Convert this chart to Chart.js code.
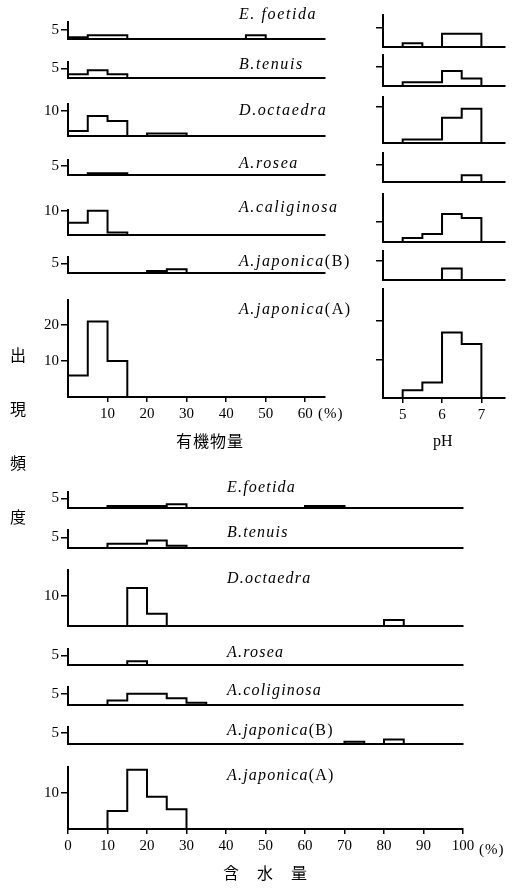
<!DOCTYPE html>
<html>
<head>
<meta charset="utf-8">
<script src="https://cdn.jsdelivr.net/npm/chart.js@4.4.1/dist/chart.umd.min.js"></script>
<style>
  body { margin: 0; background: #fff; width: 515px; height: 888px; position: relative; overflow: hidden;
         font-family: 'Liberation Serif', serif; color: #000; }
  canvas { position: absolute; }
  .sp { position: absolute; font-style: italic; font-size: 16px; line-height: 16px; white-space: nowrap; }
  .sp span { font-style: normal; }
  .num { position: absolute; font-size: 15px; line-height: 16px; white-space: nowrap; letter-spacing: 1px; }
  .jp { position: absolute; font-family: 'Noto Sans CJK JP', sans-serif; font-size: 16px; line-height: 16px; white-space: nowrap; }
</style>
</head>
<body>
<script>
// ---- データ ----
const speciesTop = ['E. foetida', 'B.tenuis', 'D.octaedra', 'A.rosea', 'A.caliginosa', 'A.japonica(B)', 'A.japonica(A)'];
const speciesBottom = ['E.foetida', 'B.tenuis', 'D.octaedra', 'A.rosea', 'A.coliginosa', 'A.japonica(B)', 'A.japonica(A)'];

// 有機物量 (%) 5%刻み
const omEdges = [0, 5, 10, 15, 20, 25, 30, 35, 40, 45, 50];
const omEfoetida   = [1, 2, 2, 0, 0, 0, 0, 0, 0, 2];
const omBtenuis    = [2, 4, 2, 0, 0, 0, 0, 0, 0, 0];
const omDoctaedra  = [2, 8, 6, 0, 1, 1, 0, 0, 0, 0];
const omArosea     = [0, 1, 1, 0, 0, 0, 0, 0, 0, 0];
const omAcaliginosa = [5, 10, 1, 0, 0, 0, 0, 0, 0, 0];
const omAjaponicaB = [0, 0, 0, 0, 1, 2, 0, 0, 0, 0];
const omAjaponicaA = [6, 21, 10, 0, 0, 0, 0, 0, 0, 0];
const omTicks = [10, 20, 30, 40, 50, 60];
const omYTicks = [[5], [5], [10], [5], [10], [5], [10, 20]];

// pH 0.5刻み
const phEdges = [5, 5.5, 6, 6.5, 7];
const phEfoetida   = [1, 0, 3.5, 3.5];
const phBtenuis    = [1, 1, 4, 2];
const phDoctaedra  = [1, 1, 7, 9.5];
const phArosea     = [0, 0, 0, 2];
const phAcaliginosa = [1, 2, 7, 6];
const phAjaponicaB = [0, 0, 3, 0];
const phAjaponicaA = [2, 4, 17, 14];
const phTicks = [5, 6, 7];
const phYTicks = [[5], [5], [10], [5], [5], [5], [10, 20]];

// 含水量 (%) 5%刻み
const waterEdges = [0, 5, 10, 15, 20, 25, 30, 35, 40, 45, 50, 55, 60, 65, 70, 75, 80, 85, 90, 95, 100];
const waterEfoetida   = [0, 0, 1, 1, 1, 2, 0, 0, 0, 0, 0, 0, 1, 1, 0, 0, 0, 0, 0, 0];
const waterBtenuis    = [0, 0, 2, 2, 3.5, 1, 0, 0, 0, 0, 0, 0, 0, 0, 0, 0, 0, 0, 0, 0];
const waterDoctaedra  = [0, 0, 0, 12.5, 4, 0, 0, 0, 0, 0, 0, 0, 0, 0, 0, 0, 2, 0, 0, 0];
const waterArosea     = [0, 0, 0, 2, 0, 0, 0, 0, 0, 0, 0, 0, 0, 0, 0, 0, 0, 0, 0, 0];
const waterAcoliginosa = [0, 0, 2, 5, 5, 3, 1, 0, 0, 0, 0, 0, 0, 0, 0, 0, 0, 0, 0, 0];
const waterAjaponicaB = [0, 0, 0, 0, 0, 0, 0, 0, 0, 0, 0, 0, 0, 0, 1, 0, 2, 0, 0, 0];
const waterAjaponicaA = [0, 0, 5, 16.5, 9, 5.5, 0, 0, 0, 0, 0, 0, 0, 0, 0, 0, 0, 0, 0, 0];
const waterTicks = [0, 10, 20, 30, 40, 50, 60, 70, 80, 90, 100];
const waterYTicks = [[5], [5], [10], [5], [5], [5], [10]];

// ---- レイアウト (各小グラフの描画領域, px) ----
const omRows = [
  { top: 15, bottom: 46, ymax: 9.1 }, { top: 55, bottom: 85, ymax: 8.3 },
  { top: 97, bottom: 143, ymax: 12.8 }, { top: 153, bottom: 182, ymax: 8.5 },
  { top: 203, bottom: 242, ymax: 10.3 }, { top: 250, bottom: 280, ymax: 8.3 },
  { top: 293, bottom: 397, ymax: 27 }
];
const phRows = [
  { top: 15, bottom: 47, ymax: 8.4 }, { top: 55, bottom: 86, ymax: 8.2 },
  { top: 97, bottom: 143, ymax: 12.8 }, { top: 153, bottom: 182, ymax: 8.5 },
  { top: 194, bottom: 242, ymax: 12 }, { top: 251, bottom: 280, ymax: 7.6 },
  { top: 289, bottom: 398, ymax: 28.3 }
];
const waterRows = [
  { top: 485, bottom: 515, ymax: 8.3 }, { top: 523, bottom: 555, ymax: 8.4 },
  { top: 563, bottom: 633, ymax: 18.4 }, { top: 642, bottom: 672, ymax: 8.3 },
  { top: 680, bottom: 712, ymax: 8 }, { top: 720, bottom: 751, ymax: 7.75 },
  { top: 760, bottom: 829, ymax: 17.25 }
];

const panels = [
  { left: 68, right: 325, min: 0, max: 65, edges: omEdges, rows: omRows, yTicks: omYTicks, xTicks: omTicks, yLabels: true,
    series: [omEfoetida, omBtenuis, omDoctaedra, omArosea, omAcaliginosa, omAjaponicaB, omAjaponicaA] },
  { left: 383, right: 505, min: 4.5, max: 7.6, edges: phEdges, rows: phRows, yTicks: phYTicks, xTicks: phTicks, yLabels: false,
    series: [phEfoetida, phBtenuis, phDoctaedra, phArosea, phAcaliginosa, phAjaponicaB, phAjaponicaA] },
  { left: 68, right: 463, min: 0, max: 100, edges: waterEdges, rows: waterRows, yTicks: waterYTicks, xTicks: waterTicks, yLabels: true,
    series: [waterEfoetida, waterBtenuis, waterDoctaedra, waterArosea, waterAcoliginosa, waterAjaponicaB, waterAjaponicaA] }
];

Chart.defaults.font.family = "'Liberation Serif', serif";
Chart.defaults.font.size = 15;
Chart.defaults.color = '#000';

// ヒストグラムの輪郭を階段状の点列にする
function histPoints(edges, counts) {
  const pts = [{ x: edges[0], y: 0 }];
  counts.forEach((c, i) => pts.push({ x: edges[i], y: c }));
  pts.push({ x: edges[counts.length], y: 0 });
  return pts;
}

function drawRow(panel, i) {
  const row = panel.rows[i];
  const isLast = i === panel.rows.length - 1;
  const AW = 46, PT = 4, PB = 4, PR = 34;
  const XH = isLast ? 34 : 0;
  const cv = document.createElement('canvas');
  cv.width = (panel.right - panel.left) + AW + PR;
  cv.height = (row.bottom - row.top) + PT + XH + PB;
  cv.style.left = (panel.left - AW) + 'px';
  cv.style.top = (row.top - PT) + 'px';
  document.body.appendChild(cv);

  new Chart(cv, {
    type: 'line',
    data: {
      datasets: [{
        data: histPoints(panel.edges, panel.series[i]),
        stepped: true,
        borderColor: '#000',
        borderWidth: 2,
        pointRadius: 0,
        fill: false,
        clip: false
      }]
    },
    options: {
      responsive: false,
      animation: false,
      layout: { autoPadding: false, padding: { left: 0, top: PT, right: PR, bottom: PB } },
      plugins: { legend: { display: false }, tooltip: { enabled: false } },
      scales: {
        x: {
          type: 'linear', min: panel.min, max: panel.max,
          afterFit: s => { s.height = XH; },
          afterBuildTicks: s => { s.ticks = (isLast ? panel.xTicks : []).map(v => ({ value: v })); },
          ticks: { display: isLast, padding: 3, autoSkip: false, maxRotation: 0, callback: v => String(v) },
          grid: { display: isLast, drawOnChartArea: false, tickLength: 5, color: '#000', lineWidth: 1.5 },
          border: { display: true, color: '#000', width: 2 }
        },
        y: {
          min: 0, max: row.ymax,
          afterFit: s => { s.width = AW; },
          afterBuildTicks: s => { s.ticks = panel.yTicks[i].map(v => ({ value: v })); },
          ticks: { display: panel.yLabels, padding: 2, autoSkip: false, callback: v => String(v) },
          grid: { drawOnChartArea: false, tickLength: 7, color: '#000', lineWidth: 1.5 },
          border: { display: true, color: '#000', width: 2 }
        }
      }
    }
  });
}

panels.forEach(p => p.rows.forEach((r, i) => drawRow(p, i)));

// ---- 文字 ----
function addText(cls, text, left, top, style) {
  const d = document.createElement('div');
  d.className = cls;
  d.innerHTML = text;
  d.style.left = left + 'px';
  d.style.top = top + 'px';
  if (style) Object.assign(d.style, style);
  document.body.appendChild(d);
}
const fmt = s => s.replace(/\((A|B)\)$/, '<span>($1)</span>');

const topLabelY = [6, 56, 102, 155, 199, 253, 301];
speciesTop.forEach((s, i) => addText('sp', fmt(s), 239, topLabelY[i], { letterSpacing: '1.6px' }));
const bottomLabelY = [479, 524, 570, 644, 682, 722, 767];
speciesBottom.forEach((s, i) => addText('sp', fmt(s), 227, bottomLabelY[i], { letterSpacing: '1.2px' }));

addText('num', '(%)', 318, 405);
addText('num', '(%)', 479, 841);
addText('jp', '有機物量', 176, 432, { letterSpacing: '1px' });
addText('num', 'pH', 433, 433, { fontSize: '16px', letterSpacing: '0' });
addText('jp', '含水量', 223, 864, { letterSpacing: '18px' });
addText('jp', '出現頻度', 10, 347, { writingMode: 'vertical-rl', letterSpacing: '38px' });
</script>
</body>
</html>
